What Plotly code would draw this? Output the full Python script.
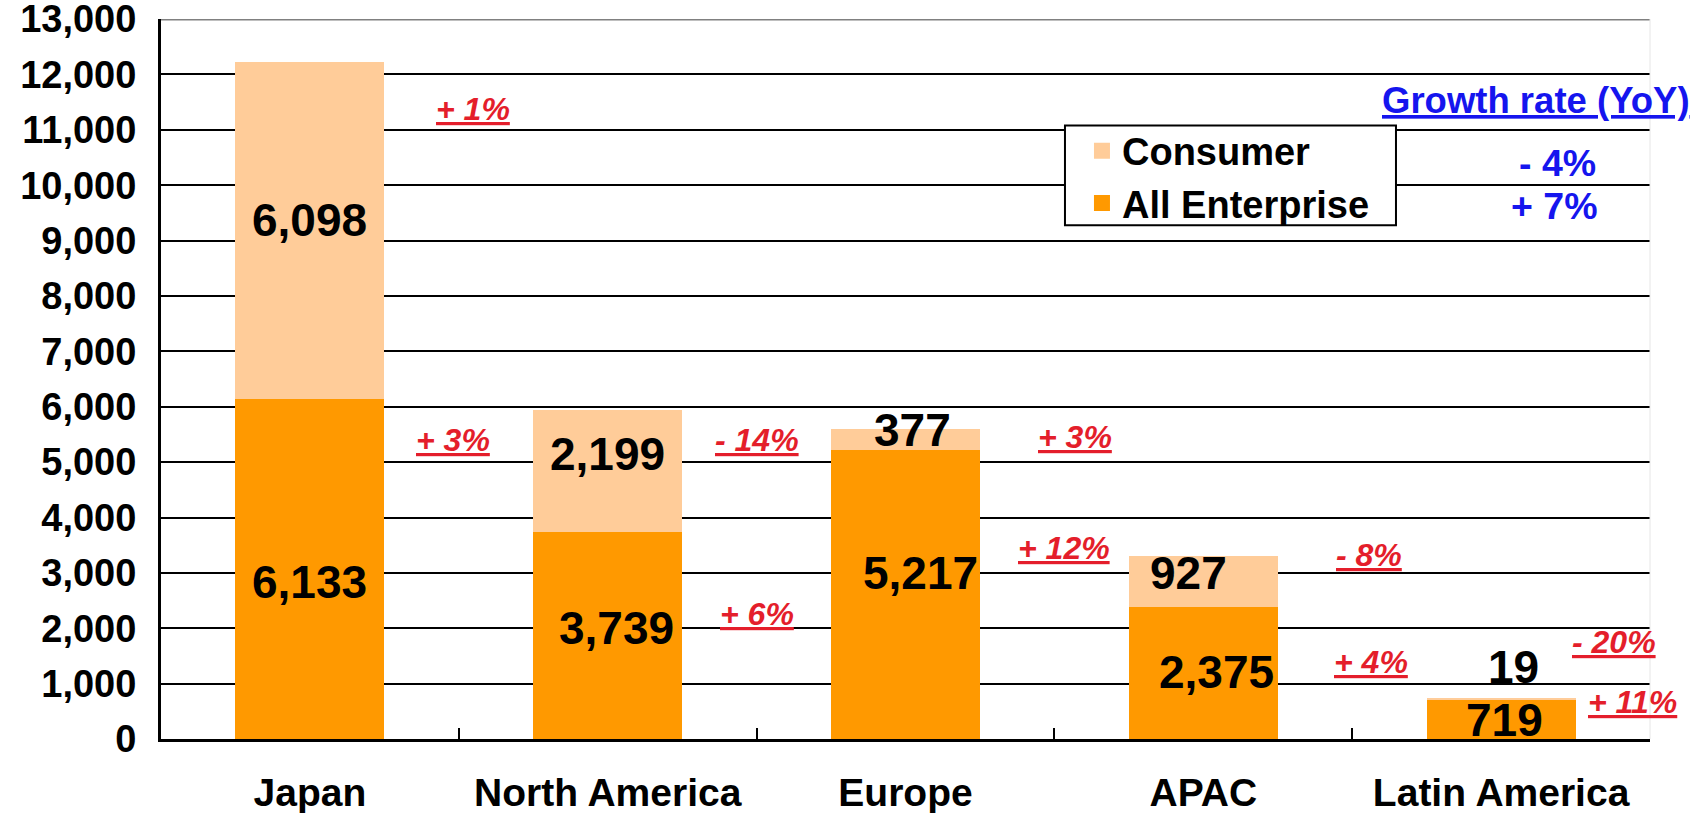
import plotly.graph_objects as go

# ---- data ----
regions = ["Japan", "North America", "Europe", "APAC", "Latin America"]
enterprise = [6133, 3739, 5217, 2375, 719]
consumer = [6098, 2199, 377, 927, 19]
y_ticks = list(range(0, 13001, 1000))

# growth rates (YoY) text
growth_consumer = ["+ 1%", "- 14%", "+ 3%", "- 8%", "- 20%"]
growth_enterprise = ["+ 3%", "+ 6%", "+ 12%", "+ 4%", "+ 11%"]
total_growth_label = "Growth rate (YoY)"
total_growth = ["- 4%", "+ 7%"]

# ---- label placement (layout only) ----
cons_lab_y = [9365, 5140, 5576, 3000, 1299]
cons_lab_dx = [0.0, 0.0, 0.025, -0.05, 0.04]
ent_lab_y = [2833, 2000, 2995, 1210, 343]
ent_lab_dx = [0.0, 0.03, 0.052, 0.045, 0.013]

gc_pos = [(0.548, 11380), (1.502, 5395), (2.57, 5450), (3.557, 3320), (4.38, 1750)]
ge_pos = [(0.481, 5395), (1.502, 2255), (2.533, 3445), (3.564, 1390), (4.44, 660)]
tot_pos = [(4.118, 11530), (4.19, 10393), (4.18, 9617)]

FONT = "Liberation Sans, Arial, sans-serif"
RED = "#E41E2B"
BLUE = "#1515EE"
C_ENT = "#FF9900"
C_CON = "#FFCC99"

fig = go.Figure()
fig.add_trace(go.Bar(x=regions, y=enterprise, name="All Enterprise", showlegend=False,
                     marker=dict(color=C_ENT, line=dict(width=0))))
fig.add_trace(go.Bar(x=regions, y=consumer, name="Consumer", showlegend=False,
                     marker=dict(color=C_CON, line=dict(width=0))))
# legend entries (square swatches)
fig.add_trace(go.Scatter(x=[None], y=[None], mode="markers", name="Consumer",
                         marker=dict(symbol="square", size=16, color=C_CON, line=dict(width=0))))
fig.add_trace(go.Scatter(x=[None], y=[None], mode="markers", name="All Enterprise",
                         marker=dict(symbol="square", size=16, color=C_ENT, line=dict(width=0))))

ann = []
for i in range(len(regions)):
    ann.append(dict(x=i + cons_lab_dx[i], y=cons_lab_y[i], xref="x", yref="y",
                    text=f"<b>{consumer[i]:,}</b>", showarrow=False,
                    font=dict(family=FONT, size=46, color="black")))
    ann.append(dict(x=i + ent_lab_dx[i], y=ent_lab_y[i], xref="x", yref="y",
                    text=f"<b>{enterprise[i]:,}</b>", showarrow=False,
                    font=dict(family=FONT, size=46, color="black")))
    gx, gy = gc_pos[i]
    ann.append(dict(x=gx, y=gy, xref="x", yref="y",
                    text=f"<u><b><i>{growth_consumer[i]}</i></b></u>", showarrow=False,
                    font=dict(family=FONT, size=32, color=RED)))
    gx, gy = ge_pos[i]
    ann.append(dict(x=gx, y=gy, xref="x", yref="y",
                    text=f"<u><b><i>{growth_enterprise[i]}</i></b></u>", showarrow=False,
                    font=dict(family=FONT, size=32, color=RED)))

tot_texts = [f"<u><b>{total_growth_label}</b></u>",
             f"<b>{total_growth[0]}</b>", f"<b>{total_growth[1]}</b>"]
tot_sizes = [36.5, 37.5, 37.5]
for (tx, ty), t, s in zip(tot_pos, tot_texts, tot_sizes):
    ann.append(dict(x=tx, y=ty, xref="x", yref="y", text=t, showarrow=False,
                    font=dict(family=FONT, size=s, color=BLUE)))

fig.update_layout(
    barmode="stack",
    bargap=0.5,
    width=1704, height=813,
    margin=dict(l=161, r=54, t=18.5, b=74, pad=0, autoexpand=False),
    paper_bgcolor="white", plot_bgcolor="white",
    font=dict(family=FONT, color="black"),
    annotations=ann,
    legend=dict(
        x=0.6071, y=0.8605, xanchor="left", yanchor="top",
        traceorder="normal",
        bgcolor="rgba(0,0,0,0)", borderwidth=0,
        font=dict(family=FONT, size=38, color="black", weight="bold"),
        itemwidth=30, tracegroupgap=0, indentation=17,
    ),
    xaxis=dict(
        automargin=False,
        showline=True, linecolor="black", linewidth=3,
        ticks="inside", tickson="boundaries", ticklen=11, tickwidth=2, tickcolor="black",
        tickfont=dict(family=FONT, size=39, color="black", weight="bold"),
        ticklabelstandoff=17, ticklabeloverflow="allow",
        showgrid=False, range=[-0.5, 4.5],
    ),
    yaxis=dict(
        automargin=False,
        range=[0, 13002], tickvals=y_ticks, tickformat=",",
        showline=True, linecolor="black", linewidth=3,
        showgrid=True, gridcolor="black", gridwidth=2,
        tickfont=dict(family=FONT, size=38, color="black", weight="bold"),
        ticks="", ticklabelstandoff=14, ticklabeloverflow="allow",
        zeroline=False,
    ),
    shapes=[
        dict(type="line", xref="paper", yref="y", x0=0, x1=1, y0=13000, y1=13000,
             line=dict(color="#808080", width=3), layer="above"),
        dict(type="line", xref="paper", yref="paper", x0=1, x1=1, y0=0, y1=1,
             line=dict(color="#E6E6E6", width=1), layer="above"),
        dict(type="rect", xref="paper", yref="paper", x0=0.6071, x1=0.8294,
             y0=0.7134, y1=0.8522, fillcolor="white",
             line=dict(color="black", width=2), layer="above"),
    ],
    showlegend=True,
)

fig.write_html("out.html", config={"displayModeBar": False},
               post_script="document.body.style.margin='0';document.body.style.overflow='hidden';")
